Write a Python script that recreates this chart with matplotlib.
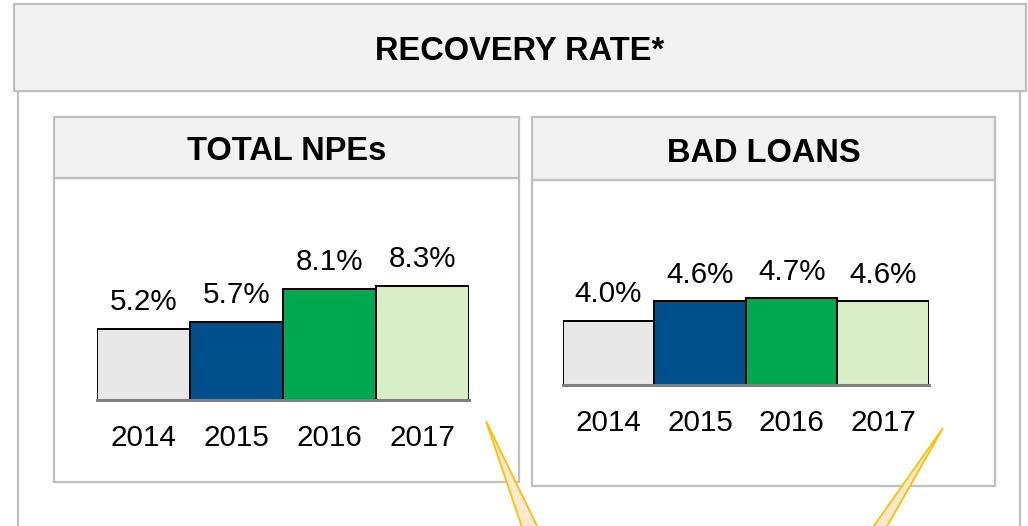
import matplotlib
matplotlib.use('Agg')
import matplotlib.pyplot as plt
from matplotlib.patches import Rectangle, Polygon

plt.rcParams['font.family'] = ['Liberation Sans', 'DejaVu Sans']

# data
years = ['2014', '2015', '2016', '2017']
npe_rates = [5.2, 5.7, 8.1, 8.3]
bad_loan_rates = [4.0, 4.6, 4.7, 4.6]
bar_colors = ['#e8e8e8', '#00508c', '#00a84f', '#d9eec6']

W, H = 1028, 526
fig = plt.figure(figsize=(W/100., H/100.), dpi=100)

# background layer in pixel coords (y down)
bg = fig.add_axes([0, 0, 1, 1])
bg.set_xlim(0, W)
bg.set_ylim(H, 0)
bg.axis('off')

grey = '#bfbfbf'
head_fc = '#f2f2f2'

def box(x0, y0, x1, y1, fc, z=1):
  bg.add_patch(Rectangle((x0, y0), x1-x0, y1-y0, fc=fc, ec=grey, lw=1.6, zorder=z))

# outer panel + main header
box(18, 91, 1020, 560, 'white')
box(14, 4, 1026, 91, head_fc)
bg.text(520, 48, 'RECOVERY RATE*', ha='center', va='center_baseline',
        fontsize=23.5, fontweight='bold')

# sub panels
box(54, 178, 519, 482, 'white')
box(54, 117, 519, 178, head_fc)
bg.text(286.5, 148.5, 'TOTAL NPEs', ha='center', va='center_baseline',
        fontsize=23.5, fontweight='bold')
box(532, 180, 995, 486, 'white')
box(532, 117, 995, 180, head_fc)
bg.text(763.5, 149.5, 'BAD LOANS', ha='center', va='center_baseline',
        fontsize=23.5, fontweight='bold')

# callout pointers
for pts in [[(486, 421), (523, 530), (539, 530)],
            [(943, 428), (871, 530), (885, 530)]]:
  bg.add_patch(Polygon(pts, closed=True, fc='#fde9d0', ec='#ffc000',
                       lw=1.3, zorder=5))


def bar_panel(x0, x1, base, top, ymin, px_per_pct, values):
  ax = fig.add_axes([x0/W, (H-base)/H, (x1-x0)/W, (base-top)/H])
  ax.set_zorder(2)
  ax.patch.set_visible(False)
  bars = ax.bar(range(len(values)), values, width=1.0, color=bar_colors,
                edgecolor='black', linewidth=1.4)
  ax.set_xlim(-0.5, len(values)-0.5)
  ax.set_ylim(ymin, ymin + (base-top)/px_per_pct)
  ax.bar_label(bars, labels=['%.1f%%' % v for v in values],
               padding=9, fontsize=21.3)
  for s in ['left', 'top', 'right']:
    ax.spines[s].set_visible(False)
  ax.spines['bottom'].set_color('#808080')
  ax.spines['bottom'].set_linewidth(2.2)
  ax.spines['bottom'].set_zorder(3)
  ax.set_yticks([])
  ax.set_xticks(range(len(values)))
  ax.set_xticklabels(years, fontsize=21.3)
  ax.tick_params(axis='x', length=0, pad=17.5)
  return ax

bar_panel(96.7, 469, 400, 180, 0.0, 13.75, npe_rates)
bar_panel(562.7, 929, 385, 180, 2.0, 32.2, bad_loan_rates)

fig.savefig('out.png', dpi=100)
